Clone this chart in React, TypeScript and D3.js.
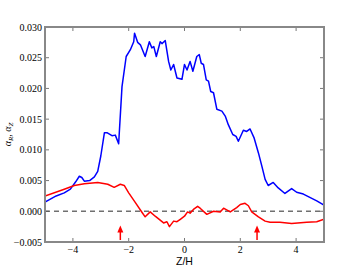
import React from "react";
import * as d3 from "d3";

const blueZ = [-5.0,-4.6,-4.31,-4.09,-3.9,-3.77,-3.68,-3.59,-3.4,-3.23,-3.11,-3.0,-2.87,-2.78,-2.6,-2.48,-2.36,-2.24,-2.09,-1.94,-1.82,-1.79,-1.68,-1.58,-1.41,-1.26,-1.17,-1.1,-1.01,-0.87,-0.8,-0.69,-0.57,-0.49,-0.39,-0.27,-0.09,0.0,0.09,0.2,0.3,0.44,0.53,0.6,0.68,0.78,0.86,0.94,1.04,1.16,1.34,1.46,1.57,1.73,1.85,1.93,2.11,2.23,2.35,2.49,2.65,2.77,2.89,3.0,3.18,3.36,3.6,3.84,4.02,4.26,4.74,5.0];
const blueV = [0.0015,0.0025,0.0030,0.0036,0.0048,0.0057,0.0055,0.0049,0.0050,0.0056,0.0065,0.0090,0.0128,0.0128,0.0123,0.0124,0.0110,0.0203,0.0252,0.0263,0.0276,0.0290,0.0275,0.0271,0.0252,0.0276,0.0266,0.0268,0.0252,0.0276,0.0273,0.0278,0.0244,0.0230,0.0239,0.0217,0.0215,0.0239,0.0230,0.0244,0.0228,0.0252,0.0255,0.0241,0.0239,0.0214,0.0212,0.0195,0.0193,0.0166,0.0163,0.0155,0.0141,0.0125,0.0122,0.0114,0.0132,0.0130,0.0134,0.0120,0.0095,0.0074,0.0052,0.0042,0.0047,0.0038,0.0029,0.0037,0.0031,0.0028,0.0017,0.0010];

const redZ = [-5.0,-4.31,-3.95,-3.59,-3.11,-2.75,-2.52,-2.3,-2.16,-2.0,-1.76,-1.52,-1.41,-1.23,-1.05,-0.75,-0.63,-0.54,-0.39,-0.27,-0.15,0.0,0.11,0.2,0.32,0.47,0.56,0.8,1.04,1.28,1.4,1.64,1.87,2.0,2.17,2.29,2.41,2.65,2.89,3.07,3.42,3.84,4.38,4.74,5.0];
const redV = [0.0025,0.0036,0.0042,0.0045,0.0047,0.0044,0.0039,0.0044,0.0042,0.0030,0.0014,-0.0002,-0.0009,-0.0001,-0.0008,-0.0019,-0.0017,-0.0025,-0.0016,-0.0017,-0.0013,-0.0008,-0.0001,-0.0003,0.0003,0.0008,0.0005,-0.0005,0.0,-0.0001,0.0005,-0.0001,0.0006,0.0011,0.0013,0.0009,-0.0001,-0.0009,-0.0016,-0.0018,-0.0018,-0.0020,-0.0018,-0.0017,-0.0013];

const arrowZ = [-2.3, 2.6];
const arrowTop = -0.0023;

const xTicks = [-4, -2, 0, 2, 4];
const yTicks = [-0.005, 0.0, 0.005, 0.01, 0.015, 0.02, 0.025, 0.03];

export default function App() {
  const L = 45, R = 324, T = 27, B = 242;
  const x = d3.scaleLinear().domain([-5, 5]).range([L, R]);
  const y = d3.scaleLinear().domain([-0.005, 0.03]).range([B, T]);
  const line = d3.line<[number, number]>().x(d => x(d[0])).y(d => y(d[1]));
  const blue = blueZ.map((z, i) => [z, blueV[i]] as [number, number]);
  const red = redZ.map((z, i) => [z, redV[i]] as [number, number]);
  const fmt = (v: number) => (v < 0 ? "\u2212" : "") + Math.abs(v).toFixed(3);
  const fmtx = (v: number) => (v < 0 ? "\u2212" : "") + Math.abs(v);
  const frame = "#888888";
  return (
    <svg width={360} height={270} style={{ position: "absolute", left: 0, top: 0, background: "#fff" }}>
      <defs>
        <clipPath id="plot"><rect x={L} y={T} width={R - L} height={B - T} /></clipPath>
      </defs>
      <line x1={L} x2={R} y1={y(0)} y2={y(0)} stroke="#707070" strokeWidth={1.5} strokeDasharray="5,4" />
      <g clipPath="url(#plot)">
        <path d={line(blue) || ""} fill="none" stroke="#0000ff" strokeWidth={1.5} strokeLinejoin="round" />
        <path d={line(red) || ""} fill="none" stroke="#ff0000" strokeWidth={1.5} strokeLinejoin="round" />
      </g>
      {arrowZ.map((z, i) => (
        <g key={i}>
          <line x1={x(z)} x2={x(z)} y1={B - 2} y2={y(arrowTop) + 4} stroke="#ff0000" strokeWidth={1.5} />
          <path d={`M${x(z)},${y(arrowTop)} L${x(z) - 3},${y(arrowTop) + 7} L${x(z) + 3},${y(arrowTop) + 7} Z`} fill="#ff0000" />
        </g>
      ))}
      {xTicks.map(t => (
        <g key={"x" + t}>
          <line x1={x(t)} x2={x(t)} y1={B} y2={B - 4} stroke="#555" strokeWidth={0.8} />
          <line x1={x(t)} x2={x(t)} y1={T} y2={T + 4} stroke="#555" strokeWidth={0.8} />
          <text x={x(t)} y={B + 10.5} textAnchor="middle" fontFamily="Liberation Serif" fontSize={10} fill="#000">{fmtx(t)}</text>
        </g>
      ))}
      {yTicks.map(t => (
        <g key={"y" + t}>
          <line x1={L} x2={L + 4} y1={y(t)} y2={y(t)} stroke="#555" strokeWidth={0.8} />
          <line x1={R} x2={R - 4} y1={y(t)} y2={y(t)} stroke="#555" strokeWidth={0.8} />
          <text x={L - 3} y={y(t) + 3.5} textAnchor="end" fontFamily="Liberation Serif" fontSize={10} fill="#000">{fmt(t)}</text>
        </g>
      ))}
      <rect x={L} y={T} width={R - L} height={B - T} fill="none" stroke={frame} strokeWidth={2} />
      <text x={(L + R) / 2} y={265} textAnchor="middle" fontFamily="Liberation Sans" fontSize={10.5} fill="#000">Z/H</text>
      <text transform={`translate(11,${(T + B) / 2}) rotate(-90)`} textAnchor="middle" fontFamily="Liberation Serif" fontSize={10} fontStyle="italic" fill="#000">
        α<tspan fontSize={7} dy={2}>R</tspan><tspan dy={-2} fontStyle="normal">, </tspan>α<tspan fontSize={7} dy={2}>Z</tspan>
      </text>
    </svg>
  );
}
